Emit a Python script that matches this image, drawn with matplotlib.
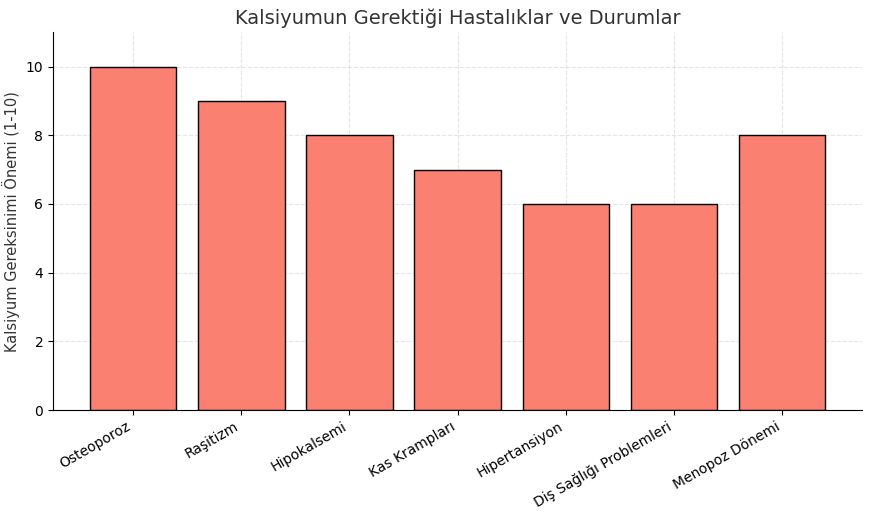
import matplotlib
matplotlib.use("Agg")
import matplotlib.pyplot as plt

categories = ["Osteoporoz", "Raşitizm", "Hipokalsemi", "Kas Krampları", "Hipertansiyon", "Diş Sağlığı Problemleri", "Menopoz Dönemi"]
values = [10, 9, 8, 7, 6, 6, 8]

fig, ax = plt.subplots(figsize=(8.7, 5.19), dpi=100)
ax.bar(categories, values, color="salmon", edgecolor="black")
ax.set_title("Kalsiyumun Gerektiği Hastalıklar ve Durumlar", fontsize=14, color="#333333")
ax.set_ylabel("Kalsiyum Gereksinimi Önemi (1-10)", fontsize=10.5, color="#333333")
ax.set_ylim(0, 11)
ax.set_yticks([0, 2, 4, 6, 8, 10])
ax.grid(True, linestyle="--", alpha=0.5, color="#cccccc")
ax.set_axisbelow(True)
ax.spines["top"].set_visible(False)
ax.spines["right"].set_visible(False)
plt.xticks(rotation=30, ha="right", fontsize=10)
plt.yticks(fontsize=10)
fig.subplots_adjust(left=0.061, right=0.991, top=0.938, bottom=0.21)
plt.savefig("out.png", dpi=100)
